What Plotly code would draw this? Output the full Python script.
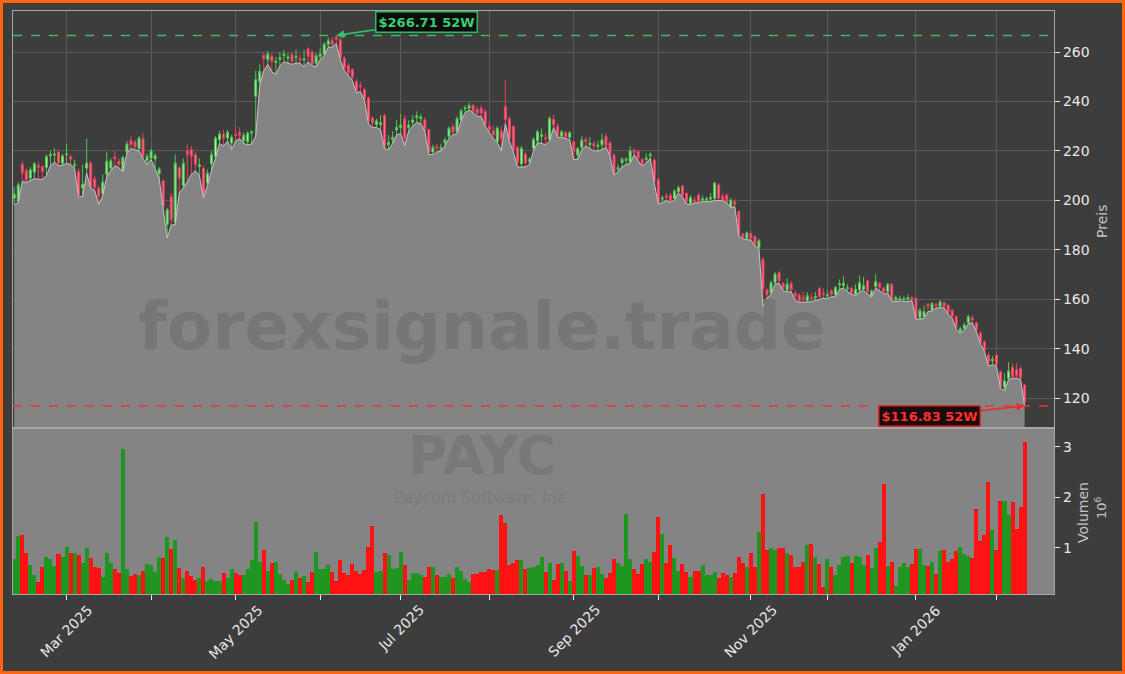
import pandas as pd
import plotly.graph_objects as go

# ---------------- data ----------------
holidays = ['2025-02-17', '2025-04-18', '2025-05-26', '2025-06-19', '2025-07-04',
            '2025-09-01', '2025-11-27', '2025-12-25', '2026-01-01', '2026-01-19']
dates = pd.bdate_range('2025-02-11', '2026-02-11', freq='C', holidays=holidays)

opens = [
    200.8, 199.6, 214.7, 212.0, 209.0, 211.4, 214.2, 213.7, 213.3, 218.0,
    218.3, 219.5, 215.0, 218.4, 217.6, 214.0, 211.7, 205.0, 213.0, 215.1,
    208.7, 205.0, 202.7, 210.5, 213.0, 217.5, 215.8, 212.0, 219.5, 224.2,
    223.6, 220.9, 224.8, 216.0, 217.1, 216.7, 210.8, 207.9, 190.2, 201.6,
    191.0, 213.0, 206.0, 220.0, 220.5, 218.5, 213.6, 213.0, 207.0, 214.7,
    217.8, 224.5, 226.8, 225.2, 223.2, 226.8, 227.5, 224.1, 223.8, 227.2,
    242.1, 248.1, 258.6, 256.9, 258.2, 255.8, 257.0, 258.5, 257.5, 258.9,
    257.8, 257.3, 256.8, 261.3, 260.0, 255.5, 258.2, 259.2, 263.0, 264.6,
    266.0, 265.0, 257.6, 254.6, 252.9, 248.1, 246.5, 244.8, 241.4, 233.3,
    230.6, 230.6, 234.4, 222.5, 224.5, 228.5, 229.5, 233.0, 229.5, 231.5,
    233.5, 233.0, 232.6, 228.6, 219.5, 221.8, 220.7, 223.2, 225.9, 229.9,
    227.9, 232.6, 237.0, 237.3, 238.4, 236.9, 237.3, 236.0, 230.0, 228.0,
    223.8, 228.0, 238.0, 233.0, 229.9, 221.4, 214.7, 218.7, 215.8, 221.0,
    224.1, 225.8, 225.4, 224.7, 232.8, 230.0, 226.0, 227.4, 225.5, 223.7,
    218.3, 221.4, 224.7, 222.5, 223.0, 221.8, 222.5, 226.0, 223.3, 218.3,
    212.5, 215.2, 216.2, 215.6, 220.3, 219.7, 216.6, 216.5, 218.0, 216.3,
    208.5, 200.5, 201.8, 202.1, 200.8, 203.5, 205.8, 202.8, 198.8, 200.2,
    202.0, 200.2, 200.2, 200.5, 200.8, 206.2, 201.7, 202.1, 197.4, 199.4,
    195.4, 186.4, 184.6, 186.6, 185.3, 181.0, 176.1, 163.7, 162.6, 166.7,
    170.8, 166.4, 163.7, 166.4, 162.5, 161.7, 160.8, 159.5, 160.8, 160.5,
    164.4, 162.5, 161.2, 163.4, 161.7, 165.8, 165.5, 164.2, 164.4, 162.1,
    163.7, 164.0, 167.5, 161.3, 165.1, 166.4, 164.6, 163.0, 166.1, 159.6,
    159.8, 159.8, 160.0, 160.6, 160.3, 152.5, 153.0, 158.0, 155.6, 158.0,
    157.0, 158.6, 157.6, 155.6, 152.9, 146.8, 148.3, 150.5, 152.5, 150.5,
    146.4, 142.8, 137.4, 135.1, 137.4, 130.7, 124.5, 128.0, 132.4, 131.5,
    132.0, 125.3]

closes = [
    202.5, 206.3, 211.0, 208.0, 212.4, 214.8, 213.4, 211.7, 217.8, 218.6,
    218.7, 215.1, 218.0, 218.8, 216.6, 214.6, 202.3, 206.5, 215.1, 205.6,
    205.2, 201.6, 207.4, 215.8, 216.0, 216.8, 214.4, 217.4, 222.8, 222.5,
    221.6, 225.2, 217.8, 217.8, 220.1, 218.1, 212.7, 197.6, 196.2, 192.2,
    215.0, 209.0, 215.0, 218.5, 217.8, 214.4, 214.4, 202.3, 211.0, 218.5,
    225.2, 226.8, 225.2, 227.6, 225.6, 226.2, 226.3, 226.3, 227.2, 227.8,
    248.8, 252.2, 257.3, 259.2, 256.2, 256.3, 257.8, 259.2, 258.0, 256.2,
    258.3, 256.7, 257.2, 258.2, 255.1, 258.5, 259.2, 263.2, 264.6, 263.0,
    265.0, 257.6, 253.5, 251.5, 249.7, 244.3, 245.9, 241.1, 232.2, 231.3,
    232.2, 231.4, 221.8, 223.5, 225.5, 229.5, 230.5, 225.0, 230.5, 232.5,
    234.2, 233.8, 228.6, 219.8, 221.5, 221.2, 221.3, 224.5, 229.2, 227.5,
    233.0, 236.3, 237.4, 238.4, 236.0, 235.0, 235.3, 230.6, 228.5, 226.5,
    229.2, 225.0, 232.6, 225.0, 220.5, 215.1, 221.1, 215.1, 216.5, 224.7,
    227.8, 226.6, 224.8, 233.2, 230.5, 226.0, 227.8, 225.5, 227.4, 219.7,
    221.0, 224.4, 223.7, 223.2, 222.0, 222.4, 224.5, 222.0, 218.3, 210.9,
    213.2, 216.6, 216.7, 220.1, 219.3, 217.0, 214.5, 217.2, 218.5, 207.9,
    199.0, 201.0, 201.2, 199.8, 203.8, 205.1, 202.1, 199.4, 201.2, 199.6,
    199.4, 200.6, 200.6, 201.2, 207.1, 200.8, 200.1, 199.4, 200.1, 198.4,
    186.0, 185.0, 186.9, 184.6, 181.9, 183.7, 164.0, 161.7, 166.7, 170.2,
    167.5, 164.4, 166.1, 163.7, 161.0, 159.0, 160.2, 161.5, 160.2, 161.2,
    161.0, 161.8, 161.8, 162.0, 164.8, 166.3, 166.5, 164.6, 162.6, 164.0,
    166.7, 165.5, 163.0, 163.4, 167.1, 164.8, 162.6, 166.1, 159.6, 160.7,
    160.3, 160.3, 160.6, 160.0, 152.0, 155.5, 155.0, 157.2, 158.3, 157.4,
    159.0, 157.0, 154.5, 152.9, 148.6, 148.2, 149.6, 152.9, 151.6, 147.5,
    142.4, 139.4, 134.3, 135.7, 133.4, 124.6, 127.0, 131.0, 128.6, 128.8,
    128.0, 118.5]

highs = [
    205.5, 207.5, 216.0, 213.0, 213.5, 215.5, 215.5, 214.0, 218.5, 220.0,
    221.2, 220.5, 218.8, 222.9, 218.5, 216.5, 213.0, 214.5, 225.0, 216.0,
    210.0, 206.0, 210.5, 219.8, 217.0, 220.0, 217.0, 218.0, 224.0, 225.9,
    224.5, 226.0, 227.2, 219.0, 221.0, 219.0, 213.5, 208.5, 197.0, 203.0,
    218.5, 214.0, 217.0, 222.5, 222.0, 219.5, 217.0, 214.0, 212.5, 220.0,
    226.0, 228.0, 228.5, 228.5, 226.5, 230.0, 229.5, 227.5, 228.0, 228.3,
    252.5, 255.0, 260.0, 260.5, 259.5, 258.0, 260.0, 260.8, 259.5, 260.0,
    261.0, 259.0, 261.0, 262.0, 261.0, 259.5, 261.5, 264.0, 266.0, 266.0,
    266.71, 265.8, 258.5, 255.5, 253.5, 249.0, 248.0, 245.5, 242.0, 234.0,
    233.0, 234.5, 235.0, 226.5, 228.0, 232.5, 235.0, 234.5, 232.5, 234.5,
    236.0, 235.0, 233.5, 229.0, 222.5, 223.0, 223.0, 225.5, 230.0, 231.0,
    234.0, 237.0, 238.5, 239.5, 239.0, 238.0, 238.5, 237.0, 232.0, 230.0,
    230.0, 230.0, 248.8, 234.0, 230.5, 222.0, 222.0, 219.5, 217.5, 225.5,
    228.5, 229.0, 227.0, 234.0, 234.5, 231.0, 228.5, 228.0, 228.0, 224.5,
    221.5, 226.0, 225.5, 225.5, 224.0, 224.0, 227.0, 227.0, 224.0, 219.0,
    214.5, 217.5, 217.5, 222.0, 221.0, 220.5, 217.0, 219.0, 219.5, 217.0,
    209.0, 202.0, 203.0, 203.0, 204.5, 206.0, 206.3, 203.2, 202.0, 201.5,
    203.0, 202.0, 201.5, 203.0, 207.5, 207.0, 203.0, 203.0, 201.0, 200.5,
    196.0, 187.0, 187.5, 187.5, 186.0, 184.5, 177.0, 164.5, 167.5, 171.0,
    171.5, 167.0, 168.5, 167.5, 163.5, 162.5, 163.0, 163.0, 162.5, 163.0,
    165.0, 164.5, 163.5, 164.0, 165.3, 168.0, 169.3, 166.0, 165.0, 166.0,
    169.5, 169.0, 168.0, 164.0, 170.2, 167.0, 165.0, 166.5, 166.5, 161.5,
    161.5, 161.2, 162.0, 161.3, 160.8, 156.5, 157.5, 158.5, 158.8, 158.5,
    159.5, 159.0, 158.0, 156.0, 153.5, 149.0, 150.5, 153.8, 153.5, 151.0,
    147.0, 143.5, 138.5, 137.0, 138.0, 131.2, 130.0, 134.5, 134.0, 134.0,
    133.0, 125.8]

lows = [
    198.3, 199.0, 207.7, 207.2, 208.0, 208.8, 208.5, 208.5, 210.0, 214.0,
    215.5, 214.0, 214.2, 215.0, 214.5, 213.0, 201.5, 201.5, 211.0, 205.0,
    204.0, 198.3, 202.0, 209.5, 212.0, 214.0, 213.2, 211.5, 219.0, 221.0,
    220.5, 220.0, 217.0, 214.5, 216.5, 213.0, 209.0, 196.5, 184.7, 190.0,
    190.2, 203.0, 205.0, 207.5, 210.5, 212.0, 210.0, 201.0, 206.0, 212.0,
    217.0, 223.0, 222.0, 224.0, 220.5, 224.0, 225.0, 223.0, 222.5, 222.8,
    226.0, 246.5, 252.5, 255.0, 252.0, 251.0, 254.5, 256.0, 255.5, 255.0,
    255.5, 255.5, 254.0, 256.0, 254.5, 254.0, 257.0, 258.5, 262.0, 262.0,
    263.5, 257.0, 252.5, 250.5, 248.5, 243.5, 244.0, 240.5, 231.0, 229.5,
    229.5, 228.5, 221.0, 220.5, 223.0, 226.5, 227.0, 222.0, 228.0, 230.0,
    231.5, 231.0, 228.0, 218.5, 218.5, 219.5, 220.0, 222.0, 225.0, 226.5,
    227.0, 232.0, 235.5, 236.5, 235.5, 234.0, 234.0, 230.0, 227.5, 225.0,
    223.5, 220.0, 231.0, 224.0, 219.5, 213.5, 213.5, 213.5, 214.5, 220.0,
    223.5, 223.0, 222.5, 224.0, 229.5, 225.5, 225.5, 225.0, 224.5, 216.5,
    216.5, 220.5, 222.0, 221.0, 220.0, 220.0, 220.5, 221.5, 218.0, 210.2,
    211.5, 213.5, 214.5, 215.0, 218.5, 216.0, 213.8, 215.0, 217.0, 207.0,
    198.5, 199.0, 200.0, 199.2, 200.0, 203.0, 201.5, 198.5, 198.3, 199.0,
    199.0, 199.5, 199.5, 199.4, 200.0, 200.0, 199.8, 199.0, 197.0, 197.5,
    185.5, 184.5, 184.0, 184.0, 181.5, 180.5, 157.0, 160.5, 162.0, 166.0,
    166.5, 163.5, 163.0, 163.0, 159.5, 158.7, 158.8, 158.8, 159.0, 159.5,
    159.8, 160.5, 160.2, 161.0, 161.0, 164.0, 164.5, 163.0, 162.0, 161.5,
    163.0, 163.5, 162.0, 160.8, 164.5, 163.5, 162.0, 162.5, 159.2, 159.0,
    159.3, 159.0, 159.0, 159.5, 151.8, 152.0, 152.2, 155.0, 155.2, 156.5,
    156.5, 156.5, 154.0, 152.3, 148.0, 146.2, 147.5, 150.0, 150.5, 147.0,
    142.0, 139.0, 133.0, 133.5, 133.0, 124.0, 123.0, 127.5, 128.0, 128.0,
    127.5, 116.83]

volumes_m = [
    0.77, 1.24, 1.26, 0.90, 0.66, 0.46, 0.33, 0.61, 0.82, 0.77,
    0.64, 0.88, 0.82, 1.02, 0.89, 0.90, 0.86, 0.70, 1.00, 0.80,
    0.61, 0.59, 0.41, 0.90, 0.70, 0.58, 0.50, 2.96, 0.58, 0.44,
    0.48, 0.45, 0.54, 0.68, 0.66, 0.52, 0.82, 0.80, 1.22, 0.98,
    1.16, 0.60, 0.40, 0.54, 0.44, 0.36, 0.40, 0.62, 0.34, 0.38,
    0.34, 0.34, 0.50, 0.40, 0.58, 0.50, 0.46, 0.46, 0.58, 0.76,
    1.50, 0.72, 0.96, 0.54, 0.70, 0.72, 0.48, 0.36, 0.28, 0.36,
    0.52, 0.40, 0.44, 0.32, 0.52, 0.92, 0.58, 0.58, 0.66, 0.52,
    0.34, 0.76, 0.50, 0.46, 0.68, 0.54, 0.48, 0.56, 1.02, 1.42,
    0.52, 0.54, 0.90, 0.86, 0.58, 0.60, 0.92, 0.66, 0.36, 0.50,
    0.50, 0.46, 0.42, 0.62, 0.62, 0.46, 0.42, 0.42, 0.48, 0.40,
    0.62, 0.54, 0.38, 0.32, 0.48, 0.48, 0.52, 0.52, 0.58, 0.56,
    0.56, 1.64, 1.48, 0.66, 0.70, 0.76, 0.76, 0.58, 0.60, 0.62,
    0.66, 0.82, 0.52, 0.70, 0.36, 0.68, 0.69, 0.53, 0.35, 0.93,
    0.83, 0.63, 0.45, 0.45, 0.59, 0.61, 0.47, 0.39, 0.49, 0.77,
    0.69, 0.63, 1.67, 0.77, 0.57, 0.47, 0.67, 0.77, 0.71, 0.91,
    1.61, 1.27, 0.69, 1.05, 0.79, 0.53, 0.67, 0.51, 0.41, 0.53,
    0.53, 0.65, 0.45, 0.45, 0.51, 0.39, 0.49, 0.45, 0.41, 0.49,
    0.81, 0.69, 0.61, 0.89, 0.61, 1.31, 2.07, 0.95, 0.99, 0.95,
    0.99, 0.99, 0.89, 0.85, 0.61, 0.61, 0.71, 1.05, 1.07, 0.81,
    0.67, 0.22, 0.77, 0.61, 0.45, 0.65, 0.81, 0.83, 0.69, 0.83,
    0.81, 0.65, 0.85, 0.59, 0.99, 1.11, 2.27, 0.63, 0.71, 0.25,
    0.61, 0.69, 0.61, 0.67, 0.97, 0.97, 0.65, 0.63, 0.71, 0.47,
    0.93, 0.95, 0.71, 0.77, 0.93, 1.01, 0.87, 0.83, 0.79, 1.77,
    1.13, 1.25, 2.31, 1.35, 0.95, 1.93, 1.93, 1.65, 1.91, 1.37,
    1.81, 3.09]

price_ticks = [120, 140, 160, 180, 200, 220, 240, 260]
volume_ticks = [1, 2, 3]
ticker = "PAYC"
company = "Paycom Software, Inc"
watermark = "forexsignale.trade"

# ---------------- derived ----------------
n = len(dates)
idx = list(range(n))
month_starts = [i for i in range(1, n) if dates[i].month != dates[i - 1].month]
major_ticks = [i for i in month_starts if dates[i].month % 2 == 1]
major_text = [dates[i].strftime('%b %Y') for i in major_ticks]
vol_colors = ['#1f961f' if c >= o else '#ff1212' for o, c in zip(opens, closes)]

hi_val = max(highs)
hi_idx = highs.index(hi_val)
lo_val = min(lows)
lo_idx = lows.index(lo_val)

BG = '#3d3d3d'
FILL = '#848484'
GRID = '#5a5a5a'
SPINE = '#a6a6a6'
TXT = '#e8e8e8'
FONT = 'DejaVu Sans'

fig = go.Figure()

fig.add_trace(go.Scatter(
    x=idx, y=lows, mode='lines', line=dict(color='#c4c4c4', width=1),
    fill='tozeroy', fillcolor=FILL, hoverinfo='skip', xaxis='x', yaxis='y'))

fig.add_trace(go.Candlestick(
    x=idx, open=opens, high=highs, low=lows, close=closes,
    increasing=dict(line=dict(color='#4cc94c', width=1), fillcolor='#b2e6b2'),
    decreasing=dict(line=dict(color='#e8405e', width=1), fillcolor='#ff6f8c'),
    whiskerwidth=0, xaxis='x', yaxis='y'))

fig.add_trace(go.Bar(
    x=idx, y=volumes_m, marker=dict(color=vol_colors, line=dict(width=0)),
    width=1.0, xaxis='x2', yaxis='y2'))

split = 0.2847
xr = [-0.3, 258.3]

fig.update_layout(
    width=1125, height=674,
    margin=dict(l=13, r=71, t=11, b=80),
    paper_bgcolor=BG, plot_bgcolor=BG,
    showlegend=False,
    bargap=0,
    font=dict(family=FONT, color=TXT, size=14),
    xaxis=dict(domain=[0, 1], anchor='y', range=xr, tickvals=month_starts,
               showticklabels=False, ticks='', showgrid=True, gridcolor=GRID,
               gridwidth=1, showline=True, linecolor=SPINE, linewidth=1.2,
               mirror=True, zeroline=False, rangeslider=dict(visible=False)),
    yaxis=dict(domain=[split, 1], anchor='x', side='right', range=[107.9, 276.6],
               tickvals=price_ticks, ticks='outside', ticklen=5, tickcolor=TXT,
               showgrid=True, gridcolor=GRID, gridwidth=1, showline=True,
               linecolor=SPINE, linewidth=1.2, mirror=True, zeroline=False,
               tickfont=dict(size=14, color=TXT), automargin=False),
    xaxis2=dict(domain=[0, 1], anchor='y2', range=xr, matches='x',
                tickmode='array', tickvals=month_starts, showticklabels=False,
                ticks='outside', ticklen=5, tickcolor=TXT,
                showgrid=False, showline=True, linecolor=SPINE, linewidth=1.2,
                mirror=True, zeroline=False, automargin=False,
                rangeslider=dict(visible=False)),
    yaxis2=dict(domain=[0, split], anchor='x2', side='right', range=[0.083, 3.37],
                tickvals=volume_ticks, ticks='outside', ticklen=5, tickcolor=TXT,
                showgrid=False, showline=True, linecolor=SPINE, linewidth=1.2,
                mirror=True, zeroline=False, tickfont=dict(size=14, color=TXT),
                automargin=False),
)

shapes = [
    dict(type='rect', xref='x2 domain', yref='y2 domain', x0=0, x1=1, y0=0, y1=1,
         fillcolor=FILL, line=dict(width=0), layer='below'),
    dict(type='line', xref='x domain', yref='y', x0=0, x1=1, y0=hi_val, y1=hi_val,
         line=dict(color='#3cb96a', width=1.6, dash='dash')),
    dict(type='line', xref='x domain', yref='y', x0=0, x1=1, y0=lo_val, y1=lo_val,
         line=dict(color='#e23a32', width=1.6, dash='dash')),
]
pw, ph = 1125 - 13 - 71, 674 - 11 - 80
shapes.append(dict(type='rect', xref='paper', yref='paper',
                   x0=(-13 + 1.5) / pw, x1=(1125 - 13 - 1.5) / pw,
                   y0=(-80 + 1.5) / ph, y1=(674 - 80 - 1.5) / ph,
                   line=dict(color='#ff6410', width=3), fillcolor='rgba(0,0,0,0)'))
fig.update_layout(shapes=shapes)


def px_x(x):
    return (x - 13) / pw


def px_y(y):
    return (594 - y) / ph


def label(x, y, text, size, color, angle=0):
    return dict(x=px_x(x), y=px_y(y), xref='paper', yref='paper', text=text,
                showarrow=False, textangle=angle, xanchor='center', yanchor='middle',
                font=dict(size=size, color=color, family=FONT))


annotations = [
    label(482, 326, '<b>' + watermark + '</b>', 66, '#767676'),
    label(482, 455, '<b>' + ticker + '</b>', 54, '#787878'),
    label(480, 497, company, 16, '#7b7b7b'),
    label(1102, 222, 'Preis', 14, '#c4c4c4', -90),
    label(1083, 513, 'Volumen', 14, '#c4c4c4', -90),
    label(1101, 508, '10<sup>6</sup>', 13, '#c4c4c4', -90),
    dict(x=hi_idx, y=hi_val, xref='x', yref='y', text='<b>$%.2f 52W</b>' % hi_val,
         showarrow=True, ax=90, ay=-13, arrowhead=2, arrowsize=1, arrowwidth=1.6,
         arrowcolor='#35c06a', font=dict(size=13, color='#38d070', family=FONT),
         bgcolor='#0c0c0c', bordercolor='#2fb862', borderwidth=1.5, borderpad=2),
    dict(x=lo_idx, y=lo_val, xref='x', yref='y', text='<b>$%.2f 52W</b>' % lo_val,
         showarrow=True, ax=-95, ay=10, arrowhead=2, arrowsize=1, arrowwidth=1.6,
         arrowcolor='#ee2e2e', font=dict(size=13, color='#ff3030', family=FONT),
         bgcolor='#1a0c0c', bordercolor='#e02a2a', borderwidth=1.5, borderpad=2),
]
# rotated month labels, centred under their tick like the reference
for tv, tt in zip(major_ticks, major_text):
    annotations.append(dict(x=tv, y=px_y(599), xref='x2', yref='paper', text=tt,
                            showarrow=False, textangle=-45, xanchor='center',
                            yanchor='top', font=dict(size=14, color=TXT, family=FONT)))
fig.update_layout(annotations=annotations)

fig.write_html("out.html", config={'displayModeBar': False},
               post_script="document.body.style.margin='0';document.body.style.background='#3d3d3d';")
